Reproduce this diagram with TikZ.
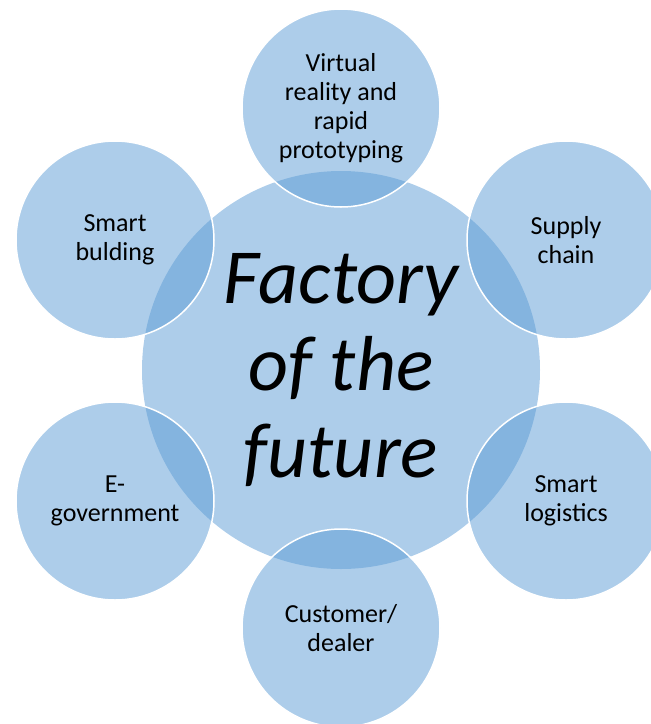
\documentclass[tikz,border=0pt]{standalone}
\usepackage{fontspec}
\setmainfont{Carlito}
\usepackage{tikz}
\usetikzlibrary{positioning}
\definecolor{azulsmart}{RGB}{91, 155, 213}

\begin{document}
\begin{tikzpicture}[
    x=1pt, y=-1pt,
    core/.style={circle, fill=azulsmart, fill opacity=0.5, text opacity=1,
                 minimum size=398pt, inner sep=0pt, align=center,
                 font=\fontsize{78}{87}\selectfont\itshape},
    sat/.style={circle, draw=white, line width=1.5pt, fill=azulsmart, fill opacity=0.5,
                draw opacity=1, text opacity=1, minimum size=198pt, inner sep=0pt,
                align=center, font=\fontsize{26}{29}\selectfont}
]
\useasboundingbox (0,0) rectangle (651,724);
\node[core] (core) at (341,370) {Factory\\of the\\future};

\node[sat] (vr)  at (341,108) {Virtual\\reality and\\rapid\\prototyping};
\node[sat] (sc)  at (566,240) {Supply\\chain};
\node[sat] (sl)  at (566,501) {Smart\\logistics};
\node[sat] (cd)  at (341,628) {Customer/\\dealer};
\node[sat] (eg)  at (115,501) {E-\\government};
\node[sat] (sb)  at (115,240) {Smart\\bulding};
\end{tikzpicture}
\end{document}
